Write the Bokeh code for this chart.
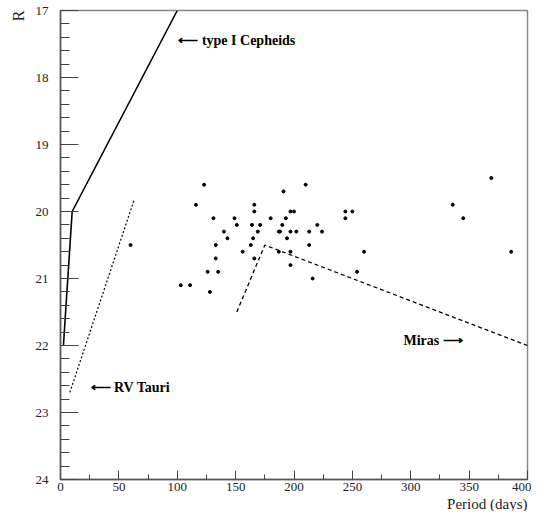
from bokeh.plotting import figure
from bokeh.models import Range1d, FixedTicker, Label, Title
from bokeh.embed import file_html
from bokeh.resources import INLINE

# Data
period = [60, 103, 111, 116, 123, 126, 128, 131, 133, 133, 135, 140, 143, 149, 151,
          156, 163, 164, 165, 166, 166, 166, 169, 171, 180, 187, 187, 188, 190, 191,
          193, 194, 197, 197, 197, 197, 200, 202, 210, 213, 213, 216, 220, 224, 244,
          244, 250, 254, 260, 336, 345, 369, 386]
mag = [20.5, 21.1, 21.1, 19.9, 19.6, 20.9, 21.2, 20.1, 20.5, 20.7, 20.9, 20.3, 20.4, 20.1, 20.2,
       20.6, 20.5, 20.2, 20.4, 19.9, 20.0, 20.7, 20.3, 20.2, 20.1, 20.3, 20.6, 20.3, 20.2, 19.7,
       20.1, 20.4, 20.0, 20.3, 20.6, 20.8, 20.0, 20.3, 19.6, 20.3, 20.5, 21.0, 20.2, 20.3, 20.0,
       20.1, 20.0, 20.9, 20.6, 19.9, 20.1, 19.5, 20.6]

ceph_x = [2.5, 10, 100]
ceph_y = [22.0, 20.0, 17.0]
rv_x = [8, 63]
rv_y = [22.7, 19.83]
mira_x = [151, 175, 400]
mira_y = [21.5, 20.5, 22.0]

x_major = [0, 50, 100, 150, 200, 250, 300, 350, 400]
x_minor = [25, 75, 125, 175, 225, 275, 325, 375]
y_major = [17, 18, 19, 20, 21, 22, 23, 24]
y_minor = [round(17 + 0.2 * i, 1) for i in range(36)]

labels_text = ["\u27f5 type I Cepheids", "\u27f5 RV Tauri", "Miras \u27f6"]
labels_x = [101, 25.7, 293.8]
labels_y = [17.45, 22.63, 21.93]

SERIF = "serif"

p = figure(width=531, height=511, output_backend="svg", toolbar_location=None,
           x_range=Range1d(0, 400), y_range=Range1d(24, 17),
           min_border_left=60, min_border_right=4, min_border_top=10, min_border_bottom=32)
p.grid.visible = False
p.background_fill_color = "white"
p.border_fill_color = "white"
p.outline_line_color = "#888888"
p.outline_line_width = 1.5

for ax in (p.xaxis, p.yaxis):
    ax.axis_line_color = "#555555"
    ax.axis_line_width = 1.5
    ax.major_tick_line_color = "#444444"
    ax.minor_tick_line_color = "#444444"
    ax.major_tick_out = 0
    ax.minor_tick_out = 0
    ax.major_label_text_font = SERIF
    ax.major_label_text_font_size = "13px"
    ax.major_label_text_color = "#222222"

p.xaxis.ticker = FixedTicker(ticks=x_major, minor_ticks=x_minor)
p.xaxis.major_tick_in = 9
p.xaxis.minor_tick_in = 5
p.xaxis.major_label_standoff = 3

p.yaxis.ticker = FixedTicker(ticks=y_major, minor_ticks=y_minor)
p.yaxis.major_tick_in = 18
p.yaxis.minor_tick_in = 9
p.yaxis.major_label_standoff = 12

p.line(ceph_x, ceph_y, line_color="black", line_width=1.6)
p.line(rv_x, rv_y, line_color="black", line_width=1.2, line_dash="2 2")
p.line(mira_x, mira_y, line_color="black", line_width=1.3, line_dash="4 3")
p.scatter(period, mag, size=3, color="black")

for t, x, y in zip(labels_text, labels_x, labels_y):
    p.add_layout(Label(x=x, y=y, text=t, text_font=SERIF, text_font_style="bold",
                       text_font_size="14px", text_baseline="middle", text_align="left",
                       text_color="black"))

p.add_layout(Title(text="R", align="right", text_font=SERIF, text_font_size="16px",
                   text_font_style="normal", text_color="#222222", standoff=12), "left")
p.add_layout(Title(text="Period (days)", align="right", text_font=SERIF,
                   text_font_size="15px", text_font_style="normal", text_color="#222222",
                   standoff=0, text_line_height=1.0), "below")

open("out.html", "w").write(file_html(p, INLINE))
